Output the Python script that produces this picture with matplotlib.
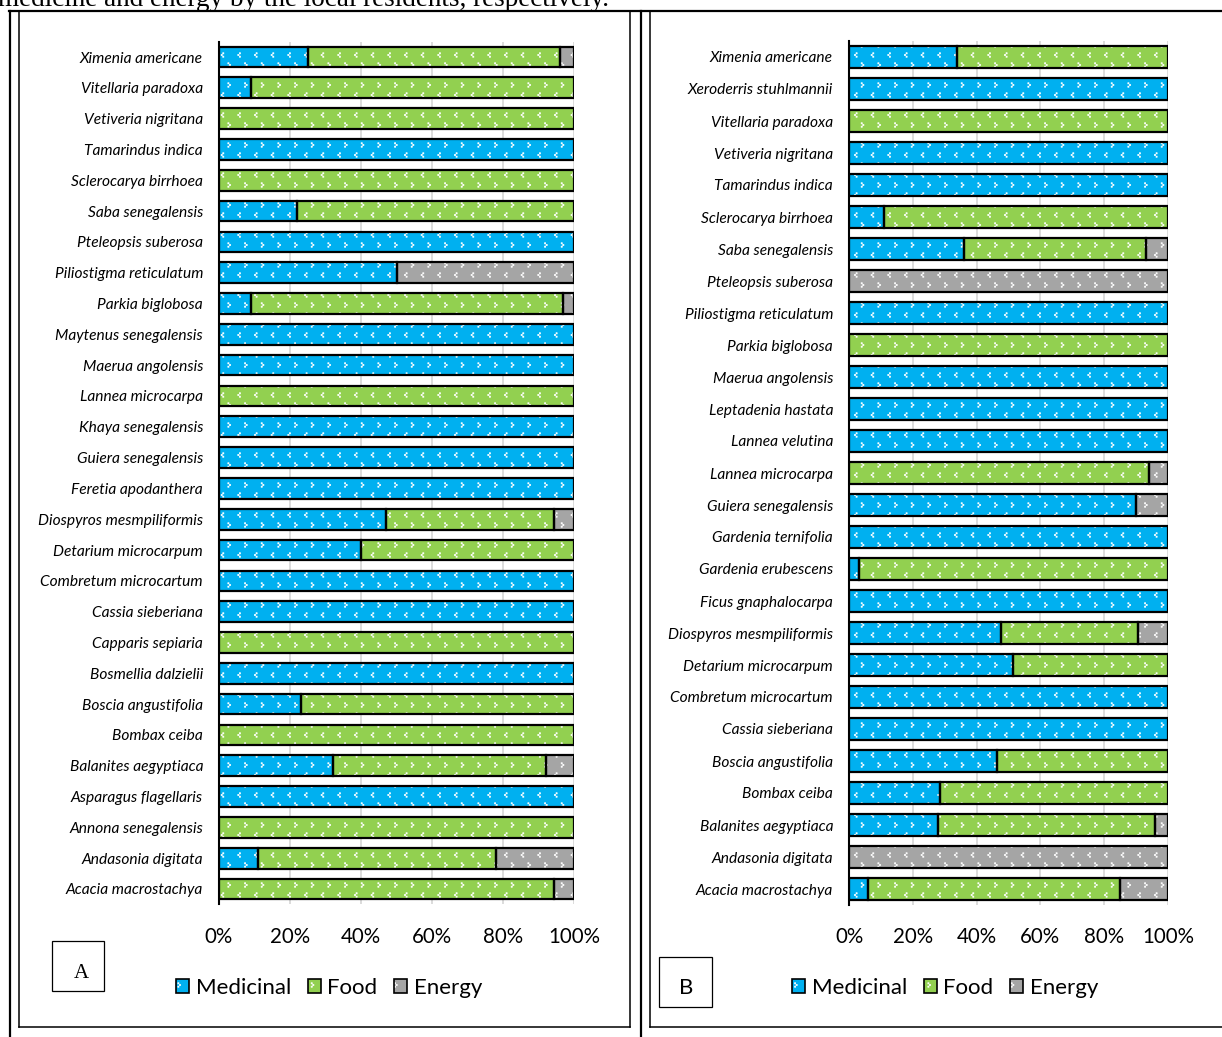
import numpy as np
import matplotlib
matplotlib.use("Agg")
import matplotlib.pyplot as plt
import matplotlib.hatch as mhatch
from matplotlib.path import Path
from matplotlib.patches import Patch, Rectangle
from matplotlib.lines import Line2D

# ---------------------------------------------------------------- data
uses = ["Medicinal", "Food", "Energy"]
use_colors = ["#00B0F0", "#92D050", "#A5A5A5"]

# Panel A (listed top to bottom)
species_a = [
    "Ximenia americane", "Vitellaria paradoxa", "Vetiveria nigritana",
    "Tamarindus indica", "Sclerocarya birrhoea", "Saba senegalensis",
    "Pteleopsis suberosa", "Piliostigma reticulatum", "Parkia biglobosa",
    "Maytenus senegalensis", "Maerua angolensis", "Lannea microcarpa",
    "Khaya senegalensis", "Guiera senegalensis", "Feretia apodanthera",
    "Diospyros mesmpiliformis", "Detarium microcarpum", "Combretum microcartum",
    "Cassia sieberiana", "Capparis sepiaria", "Bosmellia dalzielii",
    "Boscia angustifolia", "Bombax ceiba", "Balanites aegyptiaca",
    "Asparagus flagellaris", "Annona senegalensis", "Andasonia digitata",
    "Acacia macrostachya",
]
medicinal_a = [25, 9, 0, 100, 0, 22, 100, 50, 9, 100, 100, 0, 100, 100, 100,
               47, 40, 100, 100, 0, 100, 23, 0, 32, 100, 0, 11, 0]
food_a = [71, 91, 100, 0, 100, 78, 0, 0, 88, 0, 0, 100, 0, 0, 0,
          47.5, 60, 0, 0, 100, 0, 77, 100, 60, 0, 100, 67, 94.5]
energy_a = [4, 0, 0, 0, 0, 0, 0, 50, 3, 0, 0, 0, 0, 0, 0,
            5.5, 0, 0, 0, 0, 0, 0, 0, 8, 0, 0, 22, 5.5]

# Panel B (listed top to bottom)
species_b = [
    "Ximenia americane", "Xeroderris stuhlmannii", "Vitellaria paradoxa",
    "Vetiveria nigritana", "Tamarindus indica", "Sclerocarya birrhoea",
    "Saba senegalensis", "Pteleopsis suberosa", "Piliostigma reticulatum",
    "Parkia biglobosa", "Maerua angolensis", "Leptadenia hastata",
    "Lannea velutina", "Lannea microcarpa", "Guiera senegalensis",
    "Gardenia ternifolia", "Gardenia erubescens", "Ficus gnaphalocarpa",
    "Diospyros mesmpiliformis", "Detarium microcarpum", "Combretum microcartum",
    "Cassia sieberiana", "Boscia angustifolia", "Bombax ceiba",
    "Balanites aegyptiaca", "Andasonia digitata", "Acacia macrostachya",
]
medicinal_b = [34, 100, 0, 100, 100, 11, 36, 0, 100, 0, 100, 100, 100, 0, 90,
               100, 3, 100, 47.5, 51.5, 100, 100, 46.5, 28.5, 28, 0, 6]
food_b = [66, 0, 100, 0, 0, 89, 57, 0, 0, 100, 0, 0, 0, 94, 0,
          0, 97, 0, 43, 48.5, 0, 0, 53.5, 71.5, 68, 0, 79]
energy_b = [0, 0, 0, 0, 0, 0, 7, 100, 0, 0, 0, 0, 0, 6, 10,
            0, 0, 0, 9.5, 0, 0, 0, 0, 0, 4, 100, 15]

x_ticks = [0, 20, 40, 60, 80, 100]
x_tick_labels = ["0%", "20%", "40%", "60%", "80%", "100%"]

caption = "medicine and energy by the local residents, respectively."


# ------------------------------------------------- dotted chevron texture
class ChevronDots(mhatch.HatchPatternBase):
    """Tiny three-dot chevrons on a staggered grid, used for the '.' hatch."""
    cols = 6
    rows = 10
    dot = 0.011
    dx = 0.016
    dy = 0.017

    def __init__(self, hatch, density):
        self.active = hatch.count(".") > 0
        self.num_vertices = self.cols * self.rows * 3 * 5 if self.active else 0

    def set_vertices_and_codes(self, vertices, codes):
        pts = []
        for r in range(self.rows):
            cy = (r + 0.5) / self.rows
            even = r % 2 == 0
            sign = 1 if even else -1
            shift = 0.3 if even else 0.8
            for c in range(self.cols):
                cx = (c + shift) / self.cols
                pts.append((cx + sign * self.dx, cy + self.dy))
                pts.append((cx, cy))
                pts.append((cx + sign * self.dx, cy - self.dy))
        h = self.dot / 2
        i = 0
        for (x, y) in pts:
            vertices[i:i + 5] = [(x - h, y - h), (x + h, y - h),
                                 (x + h, y + h), (x - h, y + h), (x - h, y - h)]
            codes[i:i + 5] = [Path.MOVETO, Path.LINETO, Path.LINETO,
                              Path.LINETO, Path.CLOSEPOLY]
            i += 5


mhatch._hatch_types = [ChevronDots]

# ---------------------------------------------------------------- figure
W, H, DPI = 1222, 1037, 100
plt.rcParams["font.family"] = ["Lato", "DejaVu Sans"]
plt.rcParams["hatch.linewidth"] = 0.5

fig = plt.figure(figsize=(W / DPI, H / DPI), dpi=DPI)
fig.patch.set_facecolor("white")


def fx(px):
    return px / W


def fy(py):
    return 1 - py / H


def panel(rect_px, species, series, bar_h):
    left, top, right, bottom = rect_px
    ax = fig.add_axes([fx(left), fy(bottom), fx(right - left), (bottom - top) / H])
    n = len(species)
    ypos = np.arange(n)[::-1]
    cum = np.zeros(n)
    for vals, col in zip(series, use_colors):
        vals = np.asarray(vals, dtype=float)
        keep = vals > 0
        ax.barh(ypos[keep], vals[keep], left=cum[keep], height=bar_h,
                color=col, edgecolor="white", linewidth=0, hatch=".", zorder=2)
        ax.barh(ypos[keep], vals[keep], left=cum[keep], height=bar_h,
                fill=False, edgecolor="black", linewidth=1.6, zorder=3)
        cum += vals
    ax.set_xlim(0, 100)
    ax.set_ylim(-0.5, n - 0.5)
    ax.set_yticks(ypos)
    ax.set_yticklabels(species, fontstyle="italic", fontsize=11.2)
    ax.set_xticks(x_ticks)
    ax.set_xticklabels(x_tick_labels, fontsize=14.8)
    ax.tick_params(axis="y", length=0, pad=11.5)
    ax.tick_params(axis="x", length=0, pad=16)
    for s in ("top", "right", "bottom"):
        ax.spines[s].set_visible(False)
    ax.spines["left"].set_linewidth(1.5)
    ax.spines["left"].set_zorder(4)
    for t in x_ticks[1:]:
        ax.axvline(t, color="#D9D9D9", linewidth=1.3, zorder=1)
    return ax


panel((219, 41.6, 574, 904.4), species_a, [medicinal_a, food_a, energy_a], 0.67)
panel((849, 41, 1168, 905), species_b, [medicinal_b, food_b, energy_b], 0.68)

# legends
handles = [(Patch(facecolor=c, edgecolor="white", linewidth=0, hatch="."),
            Patch(facecolor="none", edgecolor="black", linewidth=1.2))
           for c in use_colors]
for cx in (329, 945):
    fig.legend(handles, uses, loc="center", bbox_to_anchor=(fx(cx), fy(988)),
               ncol=3, frameon=False, fontsize=16, handlelength=0.6,
               handleheight=0.6, handletextpad=0.28, columnspacing=0.75,
               borderpad=0, borderaxespad=0)

# ------------------------------------------------------ frames and labels
def hline(y, x0, x1, lw):
    fig.add_artist(Line2D([fx(x0), fx(x1)], [fy(y), fy(y)], color="black",
                          linewidth=lw, transform=fig.transFigure))


def vline(x, y0, y1, lw):
    fig.add_artist(Line2D([fx(x), fx(x)], [fy(y0), fy(y1)], color="black",
                          linewidth=lw, transform=fig.transFigure))


hline(11, 9, W, 1.6)
vline(10, 11, H, 1.6)
vline(641, 11, H, 1.6)
# panel A frame
vline(19, 11, 1027, 1.1)
vline(630, 11, 1027, 1.1)
hline(1027, 19, 630, 1.1)
# panel B frame
vline(650, 11, 1027, 1.1)
hline(1027, 650, W, 1.1)

for (x0, y0, x1, y1) in ((52, 941, 104, 991), (659, 957, 712, 1007)):
    fig.add_artist(Rectangle((fx(x0), fy(y1)), (x1 - x0) / W, (y1 - y0) / H,
                             fill=False, edgecolor="black", linewidth=0.9,
                             transform=fig.transFigure))

fig.text(fx(81), fy(974), "A", ha="center", va="center", fontsize=15,
         family=["Liberation Serif", "DejaVu Serif"])
fig.text(fx(686), fy(988), "B", ha="center", va="center", fontsize=16)

fig.text(fx(-2), fy(6), caption, ha="left", va="baseline", fontsize=19.5,
         family=["Liberation Serif", "DejaVu Serif"])

fig.savefig("out.png", dpi=DPI, facecolor="white")
